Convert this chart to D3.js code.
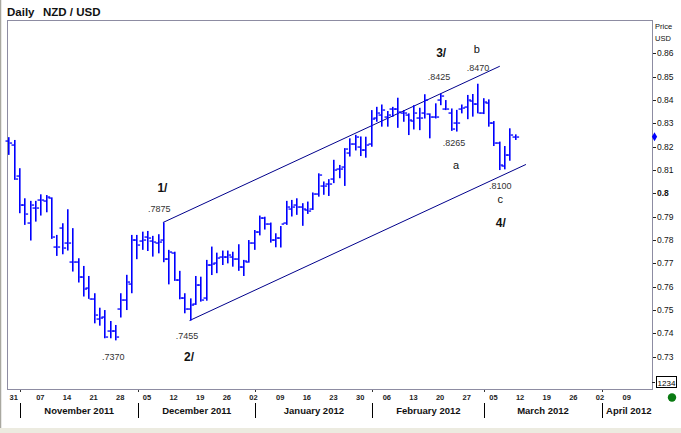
<!DOCTYPE html>
<html><head><meta charset="utf-8">
<script src="https://cdn.jsdelivr.net/npm/d3@7"></script>
<style>
html,body{margin:0;padding:0;background:#fff;}
svg{display:block;font-family:"Liberation Sans",Arial,sans-serif;}
</style></head>
<body>
<svg id="c" width="681" height="433"></svg>
<script>
// ---- data (NZD/USD daily OHLC, Oct 28 2011 .. Mar 9 2012) ----
const opens  = [0.8225,0.8208,0.8075,0.7951,0.7872,0.7939,0.7972,0.7969,0.7979,0.7772,
                0.7851,0.7786,0.7708,0.7705,0.7643,0.7593,0.7548,0.7460,0.7472,0.7410,
                0.7410,0.7505,0.7543,0.7611,0.7801,0.7796,0.7815,0.7796,0.7789,0.7800,
                0.7718,0.7745,0.7629,0.7553,0.7503,0.7525,0.7607,0.7550,0.7693,0.7700,
                0.7729,0.7729,0.7729,0.7718,0.7686,0.7708,0.7786,0.7836,0.7894,0.7869,
                0.7801,0.7808,0.7872,0.7932,0.7951,0.7941,0.7929,0.7932,0.7998,0.8032,
                0.8040,0.8061,0.8104,0.8115,0.8172,0.8212,0.8200,0.8186,0.8210,0.8324,
                0.8338,0.8328,0.8360,0.8360,0.8346,0.8335,0.8310,0.8321,0.8343,0.8340,
                0.8328,0.8400,0.8360,0.8343,0.8300,0.8360,0.8372,0.8395,0.8383,0.8343,
                0.8389,0.8303,0.8215,0.8119,0.8165,0.8243];
const highs  = [0.8241,0.8229,0.8108,0.7979,0.7968,0.7968,0.7996,0.7993,0.7983,0.7822,
                0.7872,0.7932,0.7851,0.7722,0.7689,0.7646,0.7572,0.7510,0.7500,0.7453,
                0.7436,0.7572,0.7651,0.7822,0.7822,0.7836,0.7839,0.7818,0.7825,0.7875,
                0.7758,0.7750,0.7668,0.7572,0.7550,0.7646,0.7643,0.7715,0.7772,0.7746,
                0.7755,0.7755,0.7750,0.7782,0.7715,0.7800,0.7843,0.7905,0.7900,0.7875,
                0.7829,0.7860,0.7968,0.7972,0.7979,0.7958,0.7965,0.8004,0.8086,0.8051,
                0.8061,0.8144,0.8122,0.8194,0.8236,0.8251,0.8244,0.8243,0.8357,0.8371,
                0.8381,0.8353,0.8371,0.8410,0.8357,0.8343,0.8378,0.8367,0.8425,0.8343,
                0.8386,0.8428,0.8400,0.8364,0.8358,0.8381,0.8422,0.8426,0.8470,0.8408,
                0.8403,0.8310,0.8222,0.8203,0.8279,0.8253];
const lows   = [0.8165,0.8058,0.7915,0.7865,0.7798,0.7879,0.7905,0.7919,0.7805,0.7732,
                0.7739,0.7755,0.7665,0.7618,0.7558,0.7548,0.7443,0.7433,0.7379,0.7379,
                0.7370,0.7468,0.7500,0.7572,0.7718,0.7758,0.7753,0.7729,0.7743,0.7705,
                0.7610,0.7625,0.7546,0.7486,0.7455,0.7522,0.7536,0.7540,0.7650,0.7658,
                0.7693,0.7700,0.7686,0.7668,0.7646,0.7703,0.7758,0.7820,0.7845,0.7789,
                0.7769,0.7768,0.7865,0.7901,0.7908,0.7861,0.7912,0.7929,0.7986,0.7994,
                0.7989,0.8044,0.8065,0.8032,0.8158,0.8184,0.8160,0.8153,0.8200,0.8307,
                0.8286,0.8286,0.8328,0.8281,0.8307,0.8250,0.8274,0.8271,0.8321,0.8236,
                0.8321,0.8378,0.8357,0.8268,0.8265,0.8343,0.8318,0.8329,0.8343,0.8340,
                0.8286,0.8203,0.8100,0.8103,0.8140,0.8229];
const closes = [0.8215,0.8061,0.7951,0.7912,0.7951,0.7936,0.7972,0.7984,0.7815,0.7769,
                0.7765,0.7789,0.7708,0.7643,0.7589,0.7548,0.7479,0.7465,0.7383,0.7410,
                0.7383,0.7543,0.7622,0.7801,0.7779,0.7801,0.7808,0.7793,0.7793,0.7718,
                0.7750,0.7630,0.7553,0.7503,0.7522,0.7607,0.7543,0.7693,0.7698,0.7722,
                0.7729,0.7736,0.7718,0.7686,0.7712,0.7786,0.7836,0.7895,0.7869,0.7801,
                0.7808,0.7869,0.7940,0.7943,0.7941,0.7932,0.7926,0.7998,0.8079,0.8032,
                0.8041,0.8101,0.8104,0.8189,0.8212,0.8243,0.8186,0.8207,0.8320,0.8343,
                0.8357,0.8338,0.8360,0.8350,0.8346,0.8314,0.8343,0.8321,0.8400,0.8328,
                0.8328,0.8418,0.8360,0.8278,0.8300,0.8365,0.8400,0.8383,0.8343,0.8390,
                0.8303,0.8215,0.8122,0.8165,0.8250,0.8243];

const priceTicks = [0.73,0.74,0.75,0.76,0.77,0.78,0.79,0.80,0.81,0.82,0.83,0.84,0.85,0.86];
const monthNames = ["November 2011","December 2011","January 2012","February 2012","March 2012","April 2012"];
const lastPrice = 0.8243;

// channel lines: [bar index, price] end points
const upperChannel = [[29,0.7875],[92.2,0.8545]];
const lowerChannel = [[34,0.7455],[97.1,0.8124]];

// wave annotations anchored at [bar index, price]
const waveLabels = [
  {t:"1/",   i:28.9, p:0.8006, big:true},
  {t:".7875",i:28.3, p:0.7920},
  {t:".7370",i:19.7, p:0.7286},
  {t:".7455",i:33.5, p:0.7376},
  {t:"2/",   i:33.9, p:0.7282, big:true},
  {t:"3/",   i:81.2, p:0.8585, big:true},
  {t:".8425",i:80.8, p:0.8486},
  {t:"b",    i:87.9, p:0.8602, letter:true},
  {t:".8470",i:88.1, p:0.8525},
  {t:".8265",i:83.6, p:0.8203},
  {t:"a",    i:84.0, p:0.8105, letter:true},
  {t:".8100",i:92.3, p:0.8019},
  {t:"c",    i:92.3, p:0.7959, letter:true},
  {t:"4/",   i:92.4, p:0.7856, big:true}
];

// trading calendar (weekdays) from Oct 28 2011 to Apr 13 2012
const days = d3.timeDay.range(new Date(2011,9,28), new Date(2012,3,14))
  .filter(d => d.getDay() !== 0 && d.getDay() !== 6);

// ---- layout ----
const svg = d3.select("#c");
const P = {l:7, r:652, t:20, b:389};
const x = d3.scaleLinear().domain([-0.25, days.length - 0.25]).range([P.l, P.r]);
const y = d3.scaleLinear().domain([0.73, 0.86]).range([356.7, 53.4]);

// outer decorations
svg.append("rect").attr("x",0).attr("y",0).attr("width",681).attr("height",433).attr("fill","#fff");
svg.append("rect").attr("x",0).attr("y",428).attr("width",681).attr("height",5).attr("fill","#ecebe0");
svg.append("line").attr("x1",0.5).attr("x2",0.5).attr("y1",0).attr("y2",428).attr("stroke","#a9a8a0").attr("stroke-width",1.5);

// title
svg.append("text").attr("x",7).attr("y",15.5).attr("font-size",11.5).attr("font-weight","bold").attr("fill","#111").text("Daily");
svg.append("text").attr("x",43).attr("y",15.5).attr("font-size",11.5).attr("font-weight","bold").attr("fill","#111").text("NZD / USD");

// plot frame
svg.append("rect").attr("x",P.l+0.5).attr("y",P.t+0.5).attr("width",P.r-P.l).attr("height",P.b-P.t)
  .attr("fill","none").attr("stroke","#8d8ca2").attr("stroke-width",1);

// y axis (right)
const ya = svg.append("g");
priceTicks.forEach(v => {
  const yy = Math.round(y(v)) + 0.5;
  ya.append("line").attr("x1",P.r+1).attr("x2",P.r+4).attr("y1",yy).attr("y2",yy).attr("stroke","#222");
  ya.append("text").attr("x",P.r+5).attr("y",yy).attr("dy","0.35em")
    .attr("font-size",8.5).attr("font-weight", Math.abs(v-0.8)<1e-9 ? "bold":"normal")
    .attr("fill","#111").text(Math.abs(v-0.8)<1e-9 ? "0.8" : d3.format(".2f")(v));
});
svg.append("text").attr("x",P.r+3).attr("y",29).attr("font-size",7.5).attr("fill","#111").text("Price");
svg.append("text").attr("x",P.r+3).attr("y",41).attr("font-size",7.5).attr("fill","#111").text("USD");

// last price marker (diamond)
svg.append("path").attr("d",d3.symbol(d3.symbolDiamond, 24)())
  .attr("transform",`translate(${P.r+2.5},${y(lastPrice)})`).attr("fill","#0000ff");

// "1234" box and green dot
svg.append("line").attr("x1",P.r).attr("x2",P.r+3).attr("y1",382.5).attr("y2",382.5).attr("stroke","#222");
svg.append("rect").attr("x",656.5).attr("y",376.5).attr("width",20).attr("height",11).attr("fill","#fff").attr("stroke","#000");
svg.append("text").attr("x",666.5).attr("y",385.5).attr("text-anchor","middle").attr("font-size",8).attr("fill","#000").text("1234");
svg.append("circle").attr("cx",672).attr("cy",397.5).attr("r",4.2).attr("fill","#0a7a12");

// x axis: Monday day labels
const xa = svg.append("g");
days.forEach((d,i) => {
  if (d.getDay() === 1) {
    xa.append("text").attr("x",x(i)).attr("y",400).attr("text-anchor","middle")
      .attr("font-size",7.5).attr("font-weight","bold").attr("fill","#222").text(d3.timeFormat("%d")(d));
  }
});
// month boundaries
const monthStarts = [];
days.forEach((d,i) => { if (i>0 && d.getMonth() !== days[i-1].getMonth()) monthStarts.push(i); });
monthStarts.forEach((i,k) => {
  const xx = Math.round(x(i)+1.5)+0.5;
  xa.append("line").attr("x1",xx).attr("x2",xx).attr("y1",390).attr("y2",392).attr("stroke","#333");
  xa.append("line").attr("x1",xx).attr("x2",xx).attr("y1",403).attr("y2",418).attr("stroke","#000");
  const next = k+1 < monthStarts.length ? x(monthStarts[k+1])+1.5 : P.r+3;
  xa.append("text").attr("x",(xx+next)/2).attr("y",414).attr("text-anchor","middle")
    .attr("font-size",9.5).attr("font-weight","bold").attr("fill","#111").text(monthNames[k]);
});

// channel lines
const chan = d3.line().x(d=>x(d[0])).y(d=>y(d[1]));
[upperChannel, lowerChannel].forEach(c => {
  svg.append("path").attr("d",chan(c)).attr("fill","none").attr("stroke","#00008b").attr("stroke-width",1);
});

// OHLC bars
const g = svg.append("g");
opens.forEach((o,i) => {
  const xx = Math.round(x(i));
  g.append("rect").attr("x",xx).attr("y",y(highs[i])).attr("width",1.6)
    .attr("height",y(lows[i])-y(highs[i])).attr("fill","#0000ff");
  const yo = Math.round(y(o)), yc = Math.round(y(closes[i]));
  g.append("rect").attr("x",xx-2.5).attr("y",yo-0.6).attr("width",2.5).attr("height",1.3).attr("fill","#0000ff");
  g.append("rect").attr("x",xx+1.6).attr("y",yc-0.6).attr("width",2.5).attr("height",1.3).attr("fill","#0000ff");
});

// annotations
waveLabels.forEach(a => {
  svg.append("text").attr("x",x(a.i)).attr("y",y(a.p)).attr("text-anchor","middle")
    .attr("font-size", a.big ? 12 : (a.letter ? 11 : 9))
    .attr("font-weight", a.big ? "bold" : "normal")
    .attr("fill", a.big || a.letter ? "#111" : "#333")
    .text(a.t);
});
</script>
</body></html>
